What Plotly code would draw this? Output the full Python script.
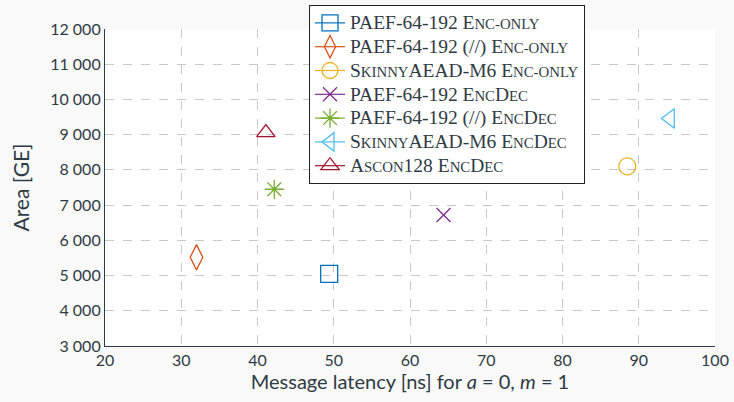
import plotly.graph_objects as go

def B(s):
    return "<span style='font-size:19.5px'>%s</span>" % s

def S(s):
    return "<span style='font-size:14.8px'>%s</span>" % s

names = [
    B("PAEF-64-192 E") + S("NC-ONLY"),
    B("PAEF-64-192 (//) E") + S("NC-ONLY"),
    B("S") + S("KINNY") + B("AEAD-M6 E") + S("NC-ONLY"),
    B("PAEF-64-192 E") + S("NC") + B("D") + S("EC"),
    B("PAEF-64-192 (//) E") + S("NC") + B("D") + S("EC"),
    B("S") + S("KINNY") + B("AEAD-M6 E") + S("NC") + B("D") + S("EC"),
    B("A") + S("SCON") + B("128 E") + S("NC") + B("D") + S("EC"),
]
latency = [49.4, 32.0, 88.5, 64.4, 42.2, 94.1, 41.1]
area = [5050, 5520, 8100, 6720, 7450, 9460, 9060]
colors = ["#0072BD", "#D95319", "#EDB120", "#7E2F8E", "#77AC30", "#4DBEEE", "#A2142F"]
symbols = ["square-open", "diamond-tall-open", "circle-open", "x-thin-open",
           "asterisk-open", "triangle-left-open", "triangle-up-open"]
sizes = [17, 18, 17, 14, 16, 17, 16]

x_ticks = [20, 30, 40, 50, 60, 70, 80, 90, 100]
y_ticks = [3000, 4000, 5000, 6000, 7000, 8000, 9000, 10000, 11000, 12000]
y_ticktext = ["3 000", "4 000", "5 000", "6 000", "7 000",
              "8 000", "9 000", "10 000", "11 000", "12 000"]

txt = "#2f3b43"
fig = go.Figure()
for n, x, y, c, s, sz in zip(names, latency, area, colors, symbols, sizes):
    fig.add_trace(go.Scatter(
        x=[x], y=[y], mode="lines+markers", name=n,
        line=dict(color=c, width=1.2),
        marker=dict(symbol=s, size=sz, color=c, line=dict(width=1.3, color=c)),
    ))

fig.update_layout(
    width=734, height=402,
    margin=dict(l=105, r=19, t=29, b=56, autoexpand=False),
    paper_bgcolor="#f9f9f9", plot_bgcolor="white",
    font=dict(family="Lato, DejaVu Sans", color=txt, size=16),
    showlegend=True,
    legend=dict(x=(309 - 105) / 610, y=(346 - 5) / 317,
                xanchor="left", yanchor="top", maxheight=400,
                bgcolor="white", bordercolor="#222", borderwidth=1,
                font=dict(family="Liberation Serif, DejaVu Serif", size=16, color=txt),
                tracegroupgap=0, itemwidth=30),
    xaxis=dict(range=[20, 100], tickvals=x_ticks, ticks="", showline=True, linecolor=txt,
               linewidth=1.2, showgrid=True, gridcolor="#c8c8c8", griddash="dash",
               zeroline=False, mirror=False, automargin=False,
               title=dict(text="Message latency [ns] for <i>a</i> = 0, <i>m</i> = 1",
                          font=dict(size=20), standoff=6)),
    yaxis=dict(range=[3000, 12000], tickvals=y_ticks, ticktext=y_ticktext, ticks="",
               showline=True, linecolor=txt, linewidth=1.2, showgrid=True,
               gridcolor="#c8c8c8", griddash="dash", zeroline=False, automargin=False,
               title=dict(text="Area [GE]", font=dict(size=21), standoff=14)),
)
fig.write_html("out.html", config={"displayModeBar": False},
               post_script="document.body.style.margin='0';")
